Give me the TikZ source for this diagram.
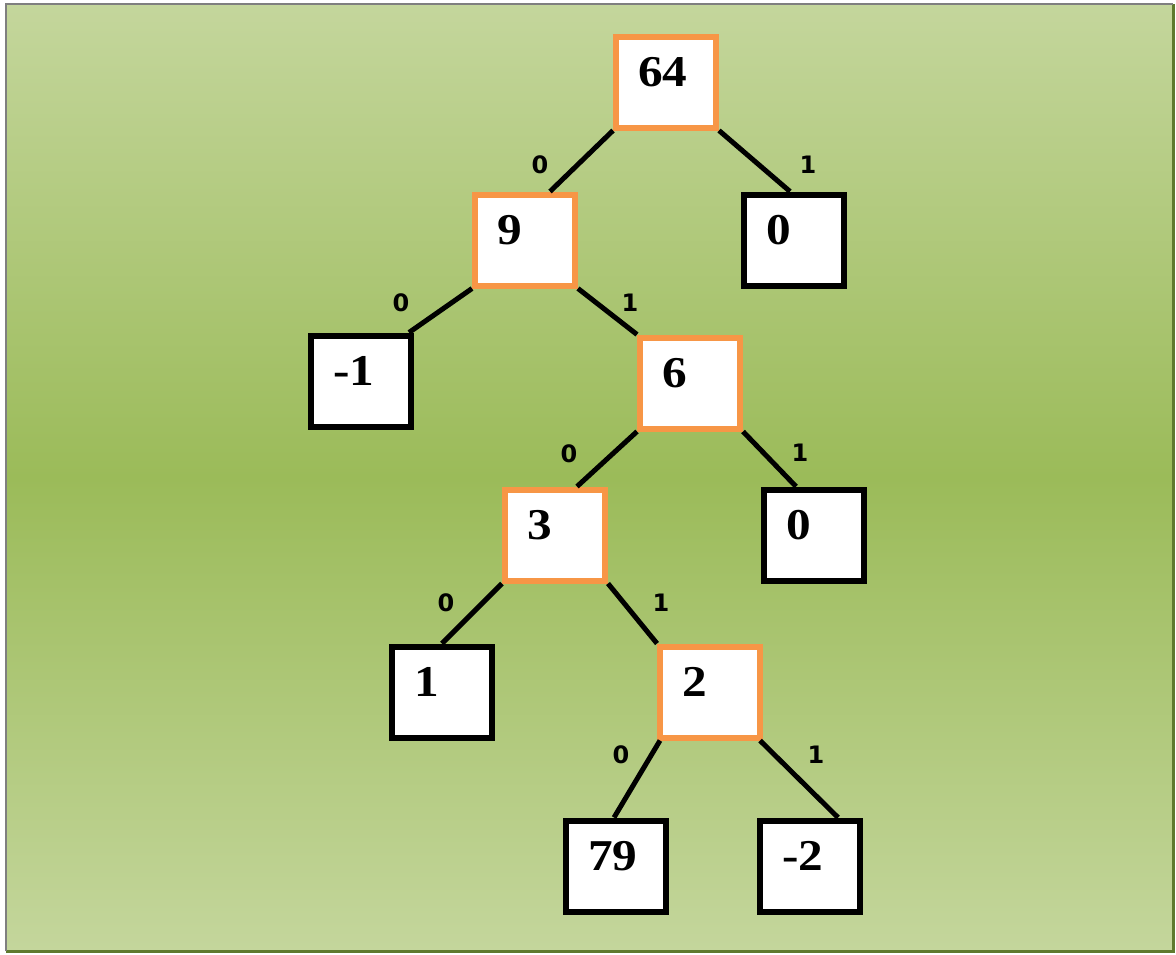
\documentclass[tikz,border=0pt]{standalone}
\usepackage{fontspec}
\setmainfont{Liberation Serif}
\newfontfamily\numfont[FakeStretch=1.12]{Liberation Serif}
\newfontfamily\labfont{DejaVu Sans}
\usetikzlibrary{calc}

\definecolor{bgedge}{HTML}{C4D69C}
\definecolor{bgmid}{HTML}{9BBB59}
\definecolor{frameGrey}{HTML}{7F7F7F}
\definecolor{frameGreen}{HTML}{5F7A2E}
\definecolor{accentOrange}{HTML}{F79646}

\tikzset{
  treebox/.style={draw, line width=3pt, fill=white, inner xsep=11pt, inner ysep=0pt,
    text width=28pt, align=left, text height=25pt, text depth=20.5pt,
    font=\numfont\bfseries\fontsize{22}{26}\selectfont},
  inner/.style={treebox, draw=accentOrange},
  leaf/.style={treebox, draw=black},
  branch/.style={line width=2.5pt, black},
  bit/.style={inner sep=0pt, font=\labfont\bfseries\fontsize{12}{14}\selectfont}
}

\begin{document}
\begin{tikzpicture}[x=0.5pt, y=-0.5pt]
  \useasboundingbox (0,0) rectangle (1176,954);

  % background panel with vertical gradient and frame
  \shade[top color=bgedge, bottom color=bgedge, middle color=bgmid]
    (6,4) rectangle (1173,951);
  \draw[frameGreen, line width=1.5pt] (6,951) -- (1173,951) -- (1173,4);
  \draw[frameGrey, line width=1.2pt] (6,951) -- (6,4) -- (1173,4);

  % tree nodes
  \node[inner] (n64) at (666,82) {64};
  \node[inner] (n9)  at (525,240) {9};
  \node[leaf]  (r0a) at (794,240) {0};
  \node[leaf]  (m1)  at (361,381) {-1};
  \node[inner] (n6)  at (690,383) {6};
  \node[inner] (n3)  at (555,535) {3};
  \node[leaf]  (r0b) at (814,535) {0};
  \node[leaf]  (l1)  at (442,692) {1};
  \node[inner] (n2)  at (710,692) {2};
  \node[leaf]  (l79) at (616,866) {79};
  \node[leaf]  (m2)  at (810,866) {-2};

  % branches
  \draw[branch] (n64.south west) -- ($(n9.north)+(25,0)$);
  \draw[branch] (n64.south east) -- ($(r0a.north)+(-4,0)$);
  \draw[branch] (n9.south west)  -- ($(m1.north east)+(-5,0)$);
  \draw[branch] (n9.south east)  -- (n6.north west);
  \draw[branch] (n6.south west)  -- ($(n3.north)+(22,0)$);
  \draw[branch] (n6.south east)  -- ($(r0b.north)+(-18,0)$);
  \draw[branch] (n3.south west)  -- (l1.north);
  \draw[branch] (n3.south east)  -- (n2.north west);
  \draw[branch] ($(n2.south west)+(3,0)$) -- ($(l79.north)+(-2,0)$);
  \draw[branch] ($(n2.south east)+(-3,0)$) -- ($(m2.north)+(28,0)$);

  % branch bits
  \node[bit] (b1)  at (540,165) {0};
  \node[bit] (b2)  at (808,165) {1};
  \node[bit] (b3)  at (401,303) {0};
  \node[bit] (b4)  at (630,303) {1};
  \node[bit] (b5)  at (569,454) {0};
  \node[bit] (b6)  at (800,453) {1};
  \node[bit] (b7)  at (446,603) {0};
  \node[bit] (b8)  at (661,603) {1};
  \node[bit] (b9)  at (621,755) {0};
  \node[bit] (b10) at (816,755) {1};
\end{tikzpicture}
\end{document}
